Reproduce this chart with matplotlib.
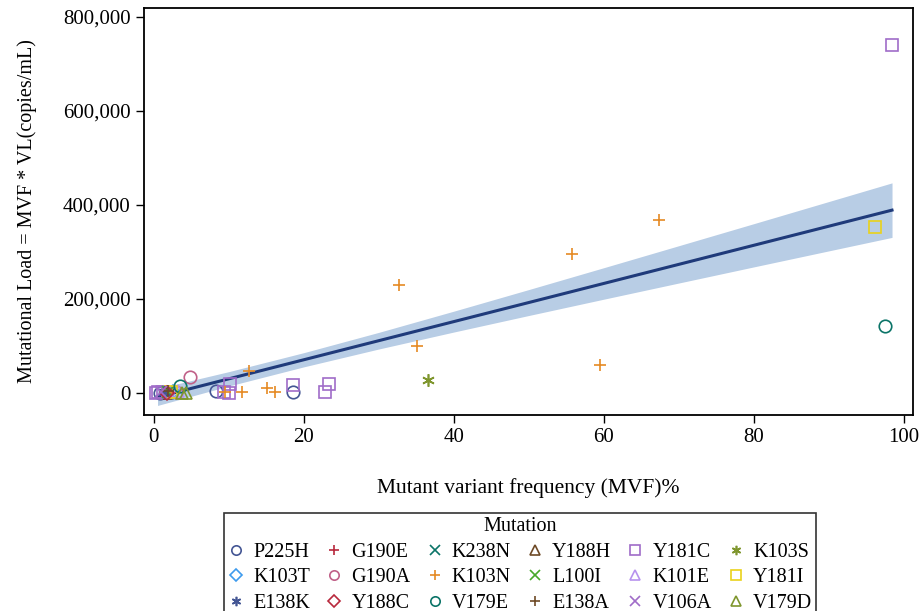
import numpy as np
import matplotlib.pyplot as plt
from matplotlib.lines import Line2D
from matplotlib.ticker import FuncFormatter

plt.rcParams["font.family"] = ["Liberation Serif", "DejaVu Serif"]

# mutations in legend order (row by row)
mutations = ["P225H", "G190E", "K238N", "Y188H", "Y181C", "K103S",
             "K103T", "G190A", "K103N", "L100I", "K101E", "Y181I",
             "E138K", "Y188C", "V179E", "E138A", "V106A", "V179D"]

# MVF (%) and mutational load per mutation
mvf = {
    "P225H": [8.3, 18.5, 0.8],
    "G190E": [1.5],
    "K238N": [2.2],
    "Y188H": [1.8],
    "Y181C": [98.4, 10.1, 10.0, 9.4, 18.5, 23.4, 22.8, 0.3, 0.6, 1.2],
    "K103S": [36.6],
    "K103T": [2.6],
    "G190A": [4.8, 2.9],
    "K103N": [67.3, 55.7, 32.7, 35.1, 59.5, 12.7, 15.1, 16.2, 11.7, 9.5, 2.4],
    "L100I": [1.9],
    "K101E": [3.2],
    "Y181I": [96.1, 2.3],
    "E138K": [1.4],
    "Y188C": [1.7],
    "V179E": [97.5, 3.5],
    "E138A": [1.9],
    "V106A": [0.9],
    "V179D": [4.3, 3.7],
}
load = {
    "P225H": [5000, 1500, 1000],
    "G190E": [2000],
    "K238N": [1000],
    "Y188H": [500],
    "Y181C": [740000, 19000, 600, 2000, 17000, 18500, 1500, 500, 1500, 2500],
    "K103S": [27000],
    "K103T": [1500],
    "G190A": [34000, 3000],
    "K103N": [368000, 296000, 230000, 100000, 59600, 46800, 10600, 2000, 2000, 2000, 1500],
    "L100I": [2500],
    "K101E": [4000],
    "Y181I": [353000, 3000],
    "E138K": [1500],
    "Y188C": [500],
    "V179E": [142600, 15000],
    "E138A": [4000],
    "V106A": [2000],
    "V179D": [0, 1000],
}

# regression fit and 95% confidence band
fit_x = [0.5, 10, 20, 30, 40, 50, 60, 70, 80, 90, 98.4]
fit_y = [-8500, 30100, 70700, 111300, 151900, 192500, 233100, 273700, 314300, 354900, 389000]
fit_lo = [-26500, 14800, 55600, 93600, 129700, 164900, 199600, 234000, 268300, 302400, 331000]
fit_hi = [9500, 45400, 85800, 129000, 174100, 220100, 266600, 313400, 360300, 407400, 447000]

colors = ["#445694", "#B8283C", "#0B7468", "#6E4A26", "#A06CC8", "#7F962E",
          "#3D9BEE", "#C06088", "#E58A24", "#47A82A", "#B792EE", "#EAD21A"]
markers = ["o", "+", "x", "^", "s", (6, 2, 0), "D"]

fig = plt.figure(figsize=(9.19, 6.11), dpi=100)
ax = fig.add_axes([0.1567, 0.3208, 0.8368, 0.6661])

ax.fill_between(fit_x, fit_lo, fit_hi, color="#B8CDE5", lw=0, zorder=1)
ax.plot(fit_x, fit_y, color="#1F3A7A", lw=2.2, zorder=2)

handles = []
for i, m in enumerate(mutations):
    c = colors[i % 12]
    mk = markers[i % 7]
    ms = 7.5 if mk == "D" else 9
    kw = dict(marker=mk, color=c, markerfacecolor="none",
              markeredgecolor=c, markeredgewidth=1.2, linestyle="none")
    ax.plot(mvf[m], load[m], markersize=ms, zorder=3, **kw)
    handles.append(Line2D([], [], label=m, markersize=ms * 0.75, **kw))

ax.set_xlim(-1.3, 101.2)
ax.set_ylim(-46800, 819000)
ax.set_xticks([0, 20, 40, 60, 80, 100])
ax.set_yticks([0, 200000, 400000, 600000, 800000])
ax.yaxis.set_major_formatter(FuncFormatter(lambda v, p: f"{int(v):,}"))
ax.tick_params(labelsize=15, length=6, width=1, color="black", direction="out")
for s in ax.spines.values():
    s.set_linewidth(1.3)

ax.set_xlabel("Mutant variant frequency (MVF)%", fontsize=15.5, labelpad=22)
ax.set_ylabel("Mutational Load = MVF * VL(copies/mL)", fontsize=14.5, labelpad=19)

# matplotlib fills legend columns first, so reorder for row-by-row layout
order = [r * 6 + c for c in range(6) for r in range(3)]
leg = fig.legend([handles[k] for k in order], [mutations[k] for k in order],
                 ncol=6, title="Mutation", loc="upper center",
                 bbox_to_anchor=(0.566, 1 - 503 / 611), frameon=True,
                 fancybox=False, edgecolor="black", fontsize=14.5,
                 title_fontsize=14.5, handlelength=0.8, handletextpad=0.45,
                 columnspacing=0.8, labelspacing=0.32, borderpad=0.2)
leg.get_frame().set_linewidth(1.2)

fig.savefig("out.png", dpi=100)
